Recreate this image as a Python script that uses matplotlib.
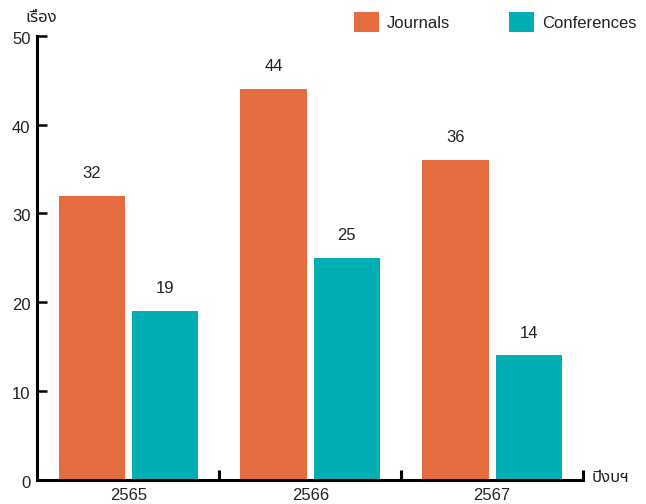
import numpy as np
import matplotlib
matplotlib.use("Agg")
import matplotlib.pyplot as plt
import matplotlib.transforms as mtransforms

# fiscal years (Thai calendar) and counts
years = ["2565", "2566", "2567"]
journals = [32, 44, 36]
conferences = [19, 25, 14]

plt.rcParams['font.family'] = ['Liberation Sans', 'Noto Sans Thai']
plt.rcParams['font.size'] = 12

c_jour = '#E46C3F'
c_conf = '#00AEB3'
txt = '#222222'

fig = plt.figure(figsize=(6.46, 5.04), dpi=100)
ax = fig.add_axes([0.058, 0.0486, 0.8445, 0.880])

x = np.arange(len(years))
w = 0.365
off = 0.2017
ax.bar(x - off, journals, w, color=c_jour, label='Journals')
ax.bar(x + off, conferences, w, color=c_conf, label='Conferences')

for xi, v in zip(x - off, journals):
    ax.annotate(str(v), (xi, v), xytext=(0, 16), textcoords='offset points',
                ha='center', va='center', color=txt)
for xi, v in zip(x + off, conferences):
    ax.annotate(str(v), (xi, v), xytext=(0, 16), textcoords='offset points',
                ha='center', va='center', color=txt)

ax.set_xlim(-0.5, 2.5)
ax.set_ylim(0, 50)
ax.set_yticks([0, 10, 20, 30, 40, 50])
ax.set_xticks(x)
ax.set_xticklabels(years)
ax.set_xticks([0.5, 1.5, 2.5], minor=True)

for s in ['top', 'right']:
    ax.spines[s].set_visible(False)
for s in ['left', 'bottom']:
    ax.spines[s].set_linewidth(2.2)
    ax.spines[s].set_color('black')

ax.tick_params(axis='y', direction='in', length=7, width=1.8, pad=5,
               colors='black', labelcolor=txt)
ax.tick_params(axis='x', which='major', length=0, pad=6, labelcolor=txt)
ax.tick_params(axis='x', which='minor', direction='in', length=7, width=2.2,
               colors='black')

# y labels sit a touch below their ticks in the original
shift = mtransforms.ScaledTranslation(0, -2 / 100, fig.dpi_scale_trans)
for lab in ax.get_yticklabels():
    lab.set_transform(lab.get_transform() + shift)

fig.text(592 / 646, 1 - 477 / 504, 'ปีงบฯ', ha='left', va='center', color=txt)
fig.text(25 / 646, 1 - 18 / 504, 'เรื่อง', ha='left', va='center', color=txt)

ax.legend(loc='upper left', bbox_to_anchor=(354 / 646, 1 - 12 / 504),
          bbox_transform=fig.transFigure, ncol=2, frameon=False,
          borderpad=0, borderaxespad=0, handlelength=1.5, handleheight=1.5,
          handletextpad=0.48, columnspacing=3.55, labelcolor=txt)

fig.savefig('out.png', dpi=100)
